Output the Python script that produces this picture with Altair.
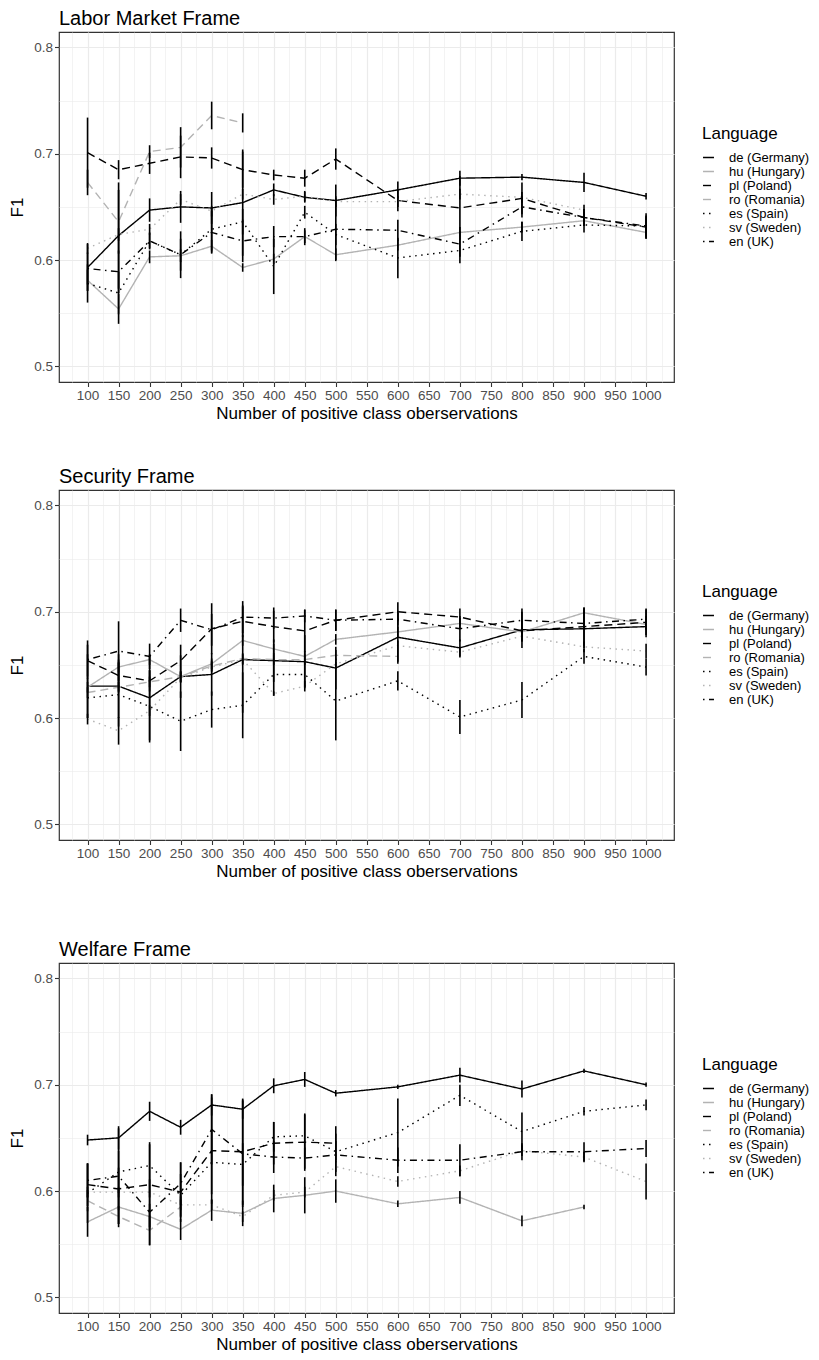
import altair as alt
import pandas as pd

FONT = "Liberation Sans"

XS = [100, 150, 200, 250, 300, 350, 400, 450, 500, 600, 700, 800, 900, 1000]
LANGS = ["de (Germany)", "hu (Hungary)", "pl (Poland)", "ro (Romania)",
         "es (Spain)", "sv (Sweden)", "en (UK)"]
COLORS = ["#000000", "#b3b3b3", "#000000", "#b3b3b3", "#000000", "#b3b3b3", "#000000"]
DASHES = [[1, 0], [1, 0], [8, 5], [8, 5], [1.5, 4.5], [1.5, 4.5], [1.5, 4.5, 7, 4.5]]

TITLES = ["Labor Market Frame", "Security Frame", "Welfare Frame"]

# ---- Labor Market Frame ----
LM_MEAN = {
    "de (Germany)": [0.593, 0.623, 0.647, 0.650, 0.649, 0.654, 0.666, 0.659, 0.656, 0.666, 0.677, 0.678, 0.673, 0.660],
    "hu (Hungary)": [0.581, 0.554, 0.603, 0.604, 0.613, 0.593, 0.601, 0.622, 0.605, 0.614, 0.626, 0.631, 0.637, 0.626],
    "pl (Poland)":  [0.701, 0.685, 0.691, 0.697, 0.696, 0.685, 0.680, 0.677, 0.695, 0.656, 0.649, 0.658, 0.640, 0.631],
    "ro (Romania)": [0.673, 0.636, 0.702, 0.706, 0.736, 0.729],
    "es (Spain)":   [0.578, 0.569, 0.618, 0.605, 0.629, 0.636, 0.594, 0.645, 0.624, 0.602, 0.609, 0.627, 0.633, 0.632],
    "sv (Sweden)":  [0.611, 0.624, 0.629, 0.657, 0.646, 0.662, 0.657, 0.660, 0.655, 0.655, 0.662, 0.659, 0.647],
    "en (UK)":      [0.592, 0.589, 0.618, 0.605, 0.626, 0.618, 0.622, 0.622, 0.629, 0.628, 0.615, 0.650, 0.640, 0.632],
}
LM_ERR = {
    "de (Germany)": [0.022, 0.05, 0.011, 0.015, 0.015, 0.05, 0.006, 0.005, 0.015, 0.008, 0.007, 0.003, 0.009, 0.003],
    "hu (Hungary)": [0.01, 0.014, 0.006, 0.006, 0.006, 0.004, 0.005, 0.006, 0.006, 0.005, 0.005, 0.005, 0.005, 0.006],
    "pl (Poland)":  [0.033, 0.009, 0.01, 0.02, 0.01, 0.017, 0.005, 0.008, 0.01, 0.01, 0.03, 0.015, 0.008, 0.01],
    "ro (Romania)": [0.012, 0.03, 0.006, 0.019, 0.013, 0.009],
    "es (Spain)":   [0.018, 0.02, 0.008, 0.015, 0.02, 0.012, 0.026, 0.006, 0.01, 0.019, 0.012, 0.009, 0.007, 0.01],
    "sv (Sweden)":  [0.005, 0.006, 0.005, 0.005, 0.005, 0.005, 0.005, 0.005, 0.005, 0.005, 0.005, 0.005, 0.005],
    "en (UK)":      [0.015, 0.02, 0.007, 0.022, 0.02, 0.02, 0.01, 0.008, 0.029, 0.01, 0.012, 0.01, 0.008, 0.012],
}

# ---- Security Frame ----
SE_MEAN = {
    "de (Germany)": [0.630, 0.630, 0.619, 0.639, 0.641, 0.655, 0.654, 0.653, 0.647, 0.676, 0.666, 0.683, 0.684, 0.686],
    "hu (Hungary)": [0.629, 0.648, 0.655, 0.639, 0.651, 0.673, 0.665, 0.658, 0.674, 0.681, 0.689, 0.681, 0.699, 0.688],
    "pl (Poland)":  [0.654, 0.640, 0.635, 0.654, 0.684, 0.691, 0.686, 0.682, 0.692, 0.700, 0.695, 0.682, 0.686, 0.690],
    "ro (Romania)": [0.624, 0.629, 0.634, 0.639, 0.649, 0.656, 0.655, 0.655, 0.659, 0.658],
    "es (Spain)":   [0.619, 0.622, 0.611, 0.597, 0.608, 0.612, 0.641, 0.641, 0.616, 0.635, 0.601, 0.617, 0.658, 0.648],
    "sv (Sweden)":  [0.599, 0.588, 0.607, 0.638, 0.648, 0.655, 0.623, 0.630, 0.651, 0.668, 0.662, 0.677, 0.667, 0.663],
    "en (UK)":      [0.655, 0.663, 0.658, 0.692, 0.683, 0.695, 0.694, 0.696, 0.692, 0.693, 0.684, 0.692, 0.689, 0.693],
}
SE_ERR = {
    "de (Germany)": [0.03, 0.03, 0.04, 0.02, 0.02, 0.05, 0.02, 0.025, 0.02, 0.025, 0.008, 0.017, 0.018, 0.01],
    "hu (Hungary)": [0.005, 0.005, 0.005, 0.005, 0.005, 0.005, 0.005, 0.005, 0.005, 0.005, 0.005, 0.005, 0.005, 0.005],
    "pl (Poland)":  [0.015, 0.015, 0.01, 0.015, 0.024, 0.015, 0.015, 0.02, 0.01, 0.009, 0.008, 0.01, 0.018, 0.012],
    "ro (Romania)": [0.005, 0.005, 0.005, 0.005, 0.005, 0.005, 0.005, 0.005, 0.005, 0.005],
    "es (Spain)":   [0.019, 0.03, 0.034, 0.028, 0.017, 0.031, 0.02, 0.012, 0.037, 0.009, 0.016, 0.017, 0.007, 0.008],
    "sv (Sweden)":  [0.005, 0.013, 0.005, 0.005, 0.005, 0.005, 0.002, 0.005, 0.005, 0.005, 0.005, 0.005, 0.005, 0.007],
    "en (UK)":      [0.018, 0.028, 0.012, 0.011, 0.015, 0.015, 0.01, 0.006, 0.01, 0.006, 0.012, 0.011, 0.006, 0.01],
}

# ---- Welfare Frame ----
WE_MEAN = {
    "de (Germany)": [0.648, 0.650, 0.675, 0.660, 0.681, 0.677, 0.699, 0.705, 0.692, 0.698, 0.709, 0.696, 0.713, 0.700],
    "hu (Hungary)": [0.571, 0.585, 0.576, 0.564, 0.582, 0.579, 0.593, 0.596, 0.600, 0.588, 0.594, 0.572, 0.585],
    "pl (Poland)":  [0.606, 0.602, 0.606, 0.599, 0.638, 0.637, 0.645, 0.646, 0.645],
    "ro (Romania)": [0.591, 0.576, 0.563, 0.585],
    "es (Spain)":   [0.598, 0.618, 0.624, 0.596, 0.627, 0.625, 0.651, 0.652, 0.637, 0.655, 0.690, 0.656, 0.675, 0.681],
    "sv (Sweden)":  [0.599, 0.599, 0.599, 0.587, 0.587, 0.576, 0.596, 0.599, 0.623, 0.609, 0.619, 0.638, 0.632, 0.609],
    "en (UK)":      [0.610, 0.614, 0.580, 0.607, 0.658, 0.635, 0.632, 0.631, 0.634, 0.629, 0.629, 0.637, 0.637, 0.640],
}
WE_ERR = {
    "de (Germany)": [0.005, 0.011, 0.009, 0.007, 0.01, 0.009, 0.007, 0.007, 0.003, 0.002, 0.007, 0.008, 0.002, 0.002],
    "hu (Hungary)": [0.014, 0.016, 0.012, 0.01, 0.01, 0.012, 0.013, 0.017, 0.011, 0.003, 0.006, 0.005, 0.002],
    "pl (Poland)":  [0.02, 0.02, 0.04, 0.028, 0.05, 0.05, 0.02, 0.027, 0.016],
    "ro (Romania)": [0.01, 0.01, 0.014, 0.01],
    "es (Spain)":   [0.028, 0.02, 0.02, 0.02, 0.03, 0.02, 0.014, 0.02, 0.01, 0.032, 0.01, 0.018, 0.004, 0.005],
    "sv (Sweden)":  [0.005, 0.005, 0.005, 0.005, 0.005, 0.005, 0.005, 0.005, 0.005, 0.005, 0.005, 0.005, 0.005, 0.017],
    "en (UK)":      [0.016, 0.045, 0.031, 0.02, 0.033, 0.05, 0.015, 0.01, 0.02, 0.012, 0.015, 0.008, 0.009, 0.008],
}

X_TICKS = list(range(75, 1026, 25))
Y_TICKS = [0.5, 0.55, 0.6, 0.65, 0.7, 0.75, 0.8]


def frame_df(means, errs):
    rows = []
    for lang in LANGS:
        for x, m, e in zip(XS, means[lang], errs[lang]):
            rows.append({"x": x, "f1": m, "lo": m - e, "hi": m + e, "lang": lang})
    return pd.DataFrame(rows)


X_MAJOR = "datum.value % 50 == 0"
Y_MAJOR = "abs(datum.value * 10 - round(datum.value * 10)) < 0.001"

x_axis = alt.Axis(
    values=X_TICKS,
    labelExpr=f"{X_MAJOR} ? format(datum.value, 'd') : ''",
    title="Number of positive class oberservations",
    tickSize={"condition": {"test": X_MAJOR, "value": 4.5}, "value": 0},
    gridWidth={"condition": {"test": X_MAJOR, "value": 1.2}, "value": 0.6},
    labelOverlap=False, labelFlush=False,
)
y_axis = alt.Axis(
    values=Y_TICKS,
    labelExpr=f"{Y_MAJOR} ? format(datum.value, '.1f') : ''",
    title="F1",
    tickSize={"condition": {"test": Y_MAJOR, "value": 4.5}, "value": 0},
    gridWidth={"condition": {"test": Y_MAJOR, "value": 1.2}, "value": 0.6},
    labelOverlap=False,
)

x_scale = alt.Scale(domain=[54, 1045], nice=False, zero=False)
y_scale = alt.Scale(domain=[0.4853, 0.8145], nice=False, zero=False)

legend = alt.Legend(
    orient="none", legendX=643, legendY=94, title="Language",
    symbolType="stroke", symbolSize=120, symbolStrokeWidth=1.4,
    labelOffset=14, rowPadding=0, titlePadding=8,
)


def panel(title, means, errs):
    df = frame_df(means, errs)
    base = alt.Chart(df)
    color_enc = alt.Color("lang:N", scale=alt.Scale(domain=LANGS, range=COLORS), sort=LANGS, legend=legend)
    dash_enc = alt.StrokeDash("lang:N", scale=alt.Scale(domain=LANGS, range=DASHES), sort=LANGS, legend=legend)
    lines = base.mark_line(strokeWidth=1.4, strokeCap="butt").encode(
        x=alt.X("x:Q", scale=x_scale, axis=x_axis),
        y=alt.Y("f1:Q", scale=y_scale, axis=y_axis),
        color=color_enc,
        strokeDash=dash_enc,
        order="x:Q",
    )
    bars = base.mark_rule(strokeWidth=1.6, color="black", strokeCap="butt").encode(
        x=alt.X("x:Q", scale=x_scale, axis=x_axis),
        y=alt.Y("lo:Q", scale=y_scale, axis=y_axis),
        y2="hi:Q",
        detail="lang:N",
    )
    return alt.layer(lines, bars).properties(
        width=615, height=350,
        title=alt.TitleParams(title, anchor="start", frame="group", fontSize=20,
                              font=FONT, fontWeight="normal", color="black", offset=3),
    )


p1 = panel(TITLES[0], LM_MEAN, LM_ERR)
p2 = panel(TITLES[1], SE_MEAN, SE_ERR)
p3 = panel(TITLES[2], WE_MEAN, WE_ERR)

inner = alt.vconcat(p1, p2, spacing=44).resolve_scale(
    color="independent", strokeDash="independent"
).resolve_legend(color="independent", strokeDash="independent")

chart = alt.vconcat(inner, p3, spacing=59).resolve_scale(
    color="independent", strokeDash="independent"
).resolve_legend(
    color="independent", strokeDash="independent"
).properties(padding=0).configure_view(
    stroke="#333333", strokeWidth=1.2
).configure_axis(
    labelFont=FONT, titleFont=FONT, labelFontSize=13.5, titleFontSize=17,
    labelColor="#4d4d4d", titleColor="black", titleFontWeight="normal",
    tickColor="#333333", tickWidth=1.1, domain=False,
    gridColor="#ebebeb", labelPadding=2,
).configure_axisX(
    titlePadding=3,
).configure_axisY(
    titlePadding=7,
).configure_legend(
    labelFont=FONT, titleFont=FONT, labelFontSize=13, titleFontSize=17,
    labelColor="black", titleColor="black", titleFontWeight="normal",
)

chart.save("out.html", embed_options={"renderer": "svg", "actions": False})
